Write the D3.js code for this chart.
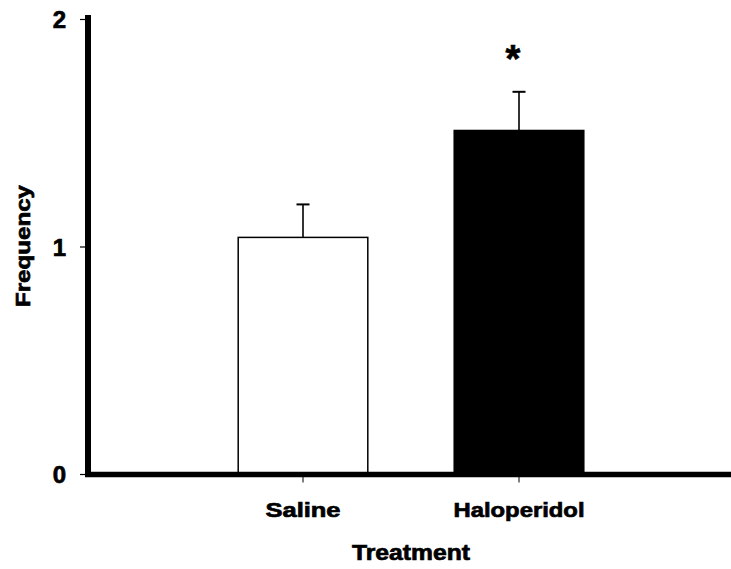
<!DOCTYPE html>
<html>
<head>
<meta charset="utf-8">
<script src="https://cdn.jsdelivr.net/npm/d3@7/dist/d3.min.js"></script>
<style>
  html, body { margin: 0; padding: 0; background: #fff; }
  svg { display: block; }
  text { font-family: "Liberation Sans", Arial, Helvetica, sans-serif; font-weight: bold; fill: #000; stroke: #000; stroke-width: 0.7px; }
</style>
</head>
<body>
<svg id="chart" width="731" height="569"></svg>
<script>
// Frequency by treatment (mean + SEM)
const categories = ["Saline", "Haloperidol"];
const means = [1.04, 1.51];
const sems = [0.145, 0.17];
const fills = ["#ffffff", "#000000"];
const significance = ["", "*"];
const yTicks = [0, 1, 2];

const svg = d3.select("#chart");

const x = d3.scaleBand()
  .domain(categories)
  .range([195, 627])
  .paddingInner(0.4)
  .paddingOuter(0.2);

const y = d3.scaleLinear()
  .domain([0, 2])
  .range([474, 19]);

// Bars
svg.selectAll("rect.bar")
  .data(categories)
  .join("rect")
  .attr("class", "bar")
  .attr("x", d => x(d))
  .attr("width", x.bandwidth())
  .attr("y", (d, i) => y(means[i]))
  .attr("height", (d, i) => y(0) - y(means[i]))
  .attr("fill", (d, i) => fills[i])
  .attr("stroke", "#000")
  .attr("stroke-width", 1.5);

// Upper error bars
const cap = 6.5;
categories.forEach((c, i) => {
  const cx = x(c) + x.bandwidth() / 2;
  svg.append("line")
    .attr("x1", cx).attr("x2", cx)
    .attr("y1", y(means[i])).attr("y2", y(means[i] + sems[i]))
    .attr("stroke", "#000").attr("stroke-width", 1.6);
  svg.append("line")
    .attr("x1", cx - cap).attr("x2", cx + cap)
    .attr("y1", y(means[i] + sems[i])).attr("y2", y(means[i] + sems[i]))
    .attr("stroke", "#000").attr("stroke-width", 2);
  if (significance[i]) {
    svg.append("text")
      .attr("x", cx - 6)
      .attr("y", y(means[i] + sems[i]) - 20)
      .attr("text-anchor", "middle")
      .style("font-size", "38px")
      .text(significance[i]);
  }
});

// Y axis
const yAxis = svg.append("g").attr("transform", "translate(88,0)")
  .call(d3.axisLeft(y).tickValues(yTicks).tickFormat(d3.format("d")).tickSize(8).tickPadding(14));
yAxis.select(".domain").remove();
yAxis.selectAll(".tick line").attr("stroke", "#000").attr("stroke-width", 1.2);
yAxis.selectAll(".tick text")
  .style("font-size", "24px")
  .style("font-family", "'Liberation Sans', Arial, sans-serif")
  .style("font-weight", "bold")
  .attr("dy", "0.36em");
svg.append("line")
  .attr("x1", 88).attr("x2", 88)
  .attr("y1", 15).attr("y2", 477)
  .attr("stroke", "#000").attr("stroke-width", 6);

// X axis
const xAxis = svg.append("g").attr("transform", `translate(0,${y(0) + 2.5})`)
  .call(d3.axisBottom(x).tickSize(6).tickPadding(20));
xAxis.select(".domain").remove();
xAxis.selectAll(".tick line").attr("stroke", "#000").attr("stroke-width", 1);
xAxis.selectAll(".tick text")
  .style("font-size", "21px")
  .style("font-family", "'Liberation Sans', Arial, sans-serif")
  .style("font-weight", "bold")
  .attr("dy", "0.71em")
  .attr("textLength", d => d === "Saline" ? 75 : 131)
  .attr("lengthAdjust", "spacingAndGlyphs");
svg.append("line")
  .attr("x1", 85).attr("x2", 731)
  .attr("y1", y(0) + 0.5).attr("y2", y(0) + 0.5)
  .attr("stroke", "#000").attr("stroke-width", 5.5);

// Axis titles
svg.append("text")
  .attr("x", 411).attr("y", 560)
  .attr("text-anchor", "middle")
  .style("font-size", "22px")
  .attr("textLength", 118)
  .attr("lengthAdjust", "spacingAndGlyphs")
  .text("Treatment");

svg.append("text")
  .attr("transform", "translate(30,246) rotate(-90)")
  .attr("text-anchor", "middle")
  .style("font-size", "21px")
  .attr("textLength", 122)
  .attr("lengthAdjust", "spacingAndGlyphs")
  .text("Frequency");
</script>
</body>
</html>
